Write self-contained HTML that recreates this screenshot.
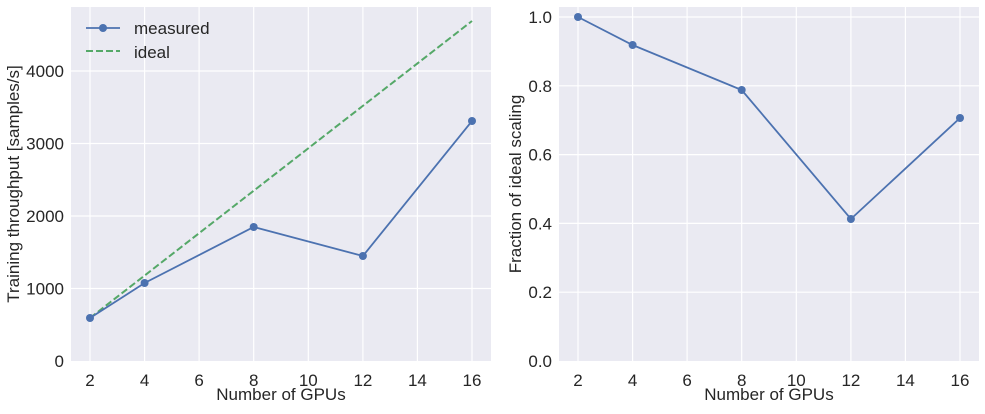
<!DOCTYPE html>
<html><head><style>body{margin:0;background:#fff}svg text{font-family:"Liberation Sans",sans-serif;fill:#262626}</style></head><body>
<svg width="985" height="409" xmlns="http://www.w3.org/2000/svg">
<rect x="71" y="7" width="420" height="354" fill="#EAEAF2"/>
<g stroke="#fff" stroke-width="1.2">
<line x1="90" y1="7" x2="90" y2="361"/><line x1="144.6" y1="7" x2="144.6" y2="361"/><line x1="199.1" y1="7" x2="199.1" y2="361"/><line x1="253.7" y1="7" x2="253.7" y2="361"/><line x1="308.3" y1="7" x2="308.3" y2="361"/><line x1="362.9" y1="7" x2="362.9" y2="361"/><line x1="417.4" y1="7" x2="417.4" y2="361"/><line x1="472" y1="7" x2="472" y2="361"/>
<line x1="71" y1="288.5" x2="491" y2="288.5"/><line x1="71" y1="216" x2="491" y2="216"/><line x1="71" y1="143.5" x2="491" y2="143.5"/><line x1="71" y1="71" x2="491" y2="71"/>
</g>
<g font-size="17" text-anchor="end">
<text x="64" y="367">0</text><text x="64" y="294.5">1000</text><text x="64" y="222">2000</text><text x="64" y="149.5">3000</text><text x="64" y="77">4000</text></g>
<g font-size="17" text-anchor="middle">
<text x="90" y="386">2</text><text x="144.6" y="386">4</text><text x="199.1" y="386">6</text><text x="253.7" y="386">8</text><text x="308.3" y="386">10</text><text x="362.9" y="386">12</text><text x="417.4" y="386">14</text><text x="472" y="386">16</text>
<text x="281" y="400">Number of GPUs</text>
<text transform="translate(19,184) rotate(-90)">Training throughput [samples/s]</text></g>
<polyline points="90,318 472,21" fill="none" stroke="#55A868" stroke-width="2" stroke-dasharray="7,3"/>
<polyline points="90,318 144.6,283 253.7,227 362.9,256 472,121" fill="none" stroke="#4C72B0" stroke-width="1.8"/>
<g fill="#4C72B0"><circle cx="90" cy="318" r="4"/><circle cx="144.6" cy="283" r="4"/><circle cx="253.7" cy="227" r="4"/><circle cx="362.9" cy="256" r="4"/><circle cx="472" cy="121" r="4"/></g>
<line x1="86" y1="28" x2="120" y2="28" stroke="#4C72B0" stroke-width="1.8"/><circle cx="103" cy="28" r="4" fill="#4C72B0"/>
<line x1="86" y1="51" x2="120" y2="51" stroke="#55A868" stroke-width="2" stroke-dasharray="7,3"/>
<text x="134" y="34" font-size="17">measured</text><text x="134" y="58" font-size="17">ideal</text>

<rect x="559" y="7" width="420" height="354" fill="#EAEAF2"/>
<g stroke="#fff" stroke-width="1.2">
<line x1="578" y1="7" x2="578" y2="361"/><line x1="632.6" y1="7" x2="632.6" y2="361"/><line x1="687.1" y1="7" x2="687.1" y2="361"/><line x1="741.7" y1="7" x2="741.7" y2="361"/><line x1="796.3" y1="7" x2="796.3" y2="361"/><line x1="850.9" y1="7" x2="850.9" y2="361"/><line x1="905.4" y1="7" x2="905.4" y2="361"/><line x1="960" y1="7" x2="960" y2="361"/>
<line x1="559" y1="292.2" x2="979" y2="292.2"/><line x1="559" y1="223.4" x2="979" y2="223.4"/><line x1="559" y1="154.6" x2="979" y2="154.6"/><line x1="559" y1="85.8" x2="979" y2="85.8"/><line x1="559" y1="17" x2="979" y2="17"/>
</g>
<g font-size="17" text-anchor="end">
<text x="552" y="367">0.0</text><text x="552" y="298.2">0.2</text><text x="552" y="229.4">0.4</text><text x="552" y="160.6">0.6</text><text x="552" y="91.8">0.8</text><text x="552" y="23">1.0</text></g>
<g font-size="17" text-anchor="middle">
<text x="578" y="386">2</text><text x="632.6" y="386">4</text><text x="687.1" y="386">6</text><text x="741.7" y="386">8</text><text x="796.3" y="386">10</text><text x="850.9" y="386">12</text><text x="905.4" y="386">14</text><text x="960" y="386">16</text>
<text x="769" y="400">Number of GPUs</text>
<text transform="translate(521,184) rotate(-90)">Fraction of ideal scaling</text></g>
<polyline points="578,17 632.6,45 741.7,90 850.9,219 960,118" fill="none" stroke="#4C72B0" stroke-width="1.8"/>
<g fill="#4C72B0"><circle cx="578" cy="17" r="4"/><circle cx="632.6" cy="45" r="4"/><circle cx="741.7" cy="90" r="4"/><circle cx="850.9" cy="219" r="4"/><circle cx="960" cy="118" r="4"/></g>
</svg>
</body></html>
